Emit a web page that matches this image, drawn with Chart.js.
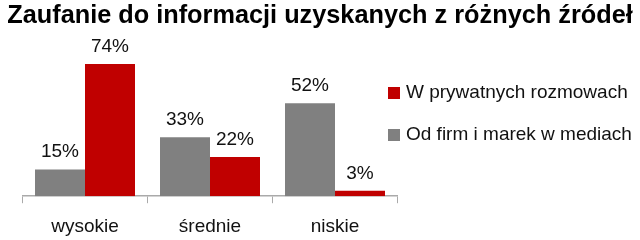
<!DOCTYPE html>
<html>
<head>
<meta charset="utf-8">
<script src="https://cdn.jsdelivr.net/npm/chart.js@4/dist/chart.umd.min.js"></script>
<style>
  body { margin: 0; background: #fff; }
  #wrap { width: 640px; height: 240px; }
</style>
</head>
<body>
<div id="wrap"><canvas id="trustChart"></canvas></div>
<script>
const chartTitle = 'Zaufanie do informacji uzyskanych z różnych źródeł';
const categories = ['wysokie', 'średnie', 'niskie'];
const mediaLabel = 'Od firm i marek w mediach';
const mediaValues = [15, 33, 52];
const privateLabel = 'W prywatnych rozmowach';
const privateValues = [74, 22, 3];

const FONT = '"Liberation Sans", Arial, sans-serif';

// percent labels over the bars
const valueLabels = {
  id: 'valueLabels',
  afterDatasetsDraw(chart) {
    const ctx = chart.ctx;
    ctx.save();
    ctx.font = '19px ' + FONT;
    ctx.fillStyle = '#111';
    ctx.textAlign = 'center';
    ctx.textBaseline = 'alphabetic';
    chart.data.datasets.forEach((ds, i) => {
      chart.getDatasetMeta(i).data.forEach((bar, j) => {
        ctx.fillText(ds.data[j] + '%', bar.x, bar.y - 12);
      });
    });
    ctx.restore();
  }
};

// legend sits at the right, slightly over the end of the axis
const sideLegend = {
  id: 'sideLegend',
  afterDraw(chart) {
    const ctx = chart.ctx;
    const x = chart.chartArea.right - 9.5;
    let y = 93;
    ctx.save();
    ctx.font = '19px ' + FONT;
    ctx.textBaseline = 'middle';
    ctx.textAlign = 'left';
    chart.data.datasets.slice().reverse().forEach(ds => {
      ctx.fillStyle = ds.backgroundColor;
      ctx.fillRect(x, y - 6, 12, 12);
      ctx.fillStyle = '#111';
      ctx.fillText(ds.label, x + 18, y);
      y += 42;
    });
    ctx.restore();
  }
};

// invisible axis used only to reserve space at a side
function spacer(position, width, extra) {
  return Object.assign({
    position: position,
    display: true,
    ticks: { display: false },
    grid: { display: false },
    border: { display: false },
    afterFit: s => { s.width = width; }
  }, extra);
}

const ctx = document.getElementById('trustChart').getContext('2d');

new Chart(ctx, {
  type: 'bar',
  data: {
    labels: categories,
    datasets: [
      {
        label: mediaLabel,
        data: mediaValues,
        backgroundColor: '#808080',
        categoryPercentage: 0.8,
        barPercentage: 1.0
      },
      {
        label: privateLabel,
        data: privateValues,
        backgroundColor: '#c00000',
        categoryPercentage: 0.8,
        barPercentage: 1.0
      }
    ]
  },
  options: {
    responsive: true,
    maintainAspectRatio: false,
    animation: false,
    layout: {
      padding: { left: 0, right: 0, top: 0, bottom: -10 }
    },
    plugins: {
      legend: { display: false },
      tooltip: { enabled: false },
      title: {
        display: true,
        text: chartTitle,
        color: '#000',
        font: { family: FONT, size: 25.3, weight: 'bold' },
        padding: { top: 1, bottom: 22 }
      }
    },
    scales: {
      x: {
        grid: {
          drawOnChartArea: false,
          drawTicks: true,
          tickLength: 7,
          color: '#aaa'
        },
        border: { display: true, color: '#aaa', width: 1.5 },
        ticks: {
          color: '#111',
          font: { family: FONT, size: 19 },
          padding: 12,
          maxRotation: 0,
          autoSkip: false
        }
      },
      y: spacer('left', 22.5, { min: 0, max: 80 }),
      yRight: spacer('right', 242.5, {})
    }
  },
  plugins: [valueLabels, sideLegend]
});
</script>
</body>
</html>
